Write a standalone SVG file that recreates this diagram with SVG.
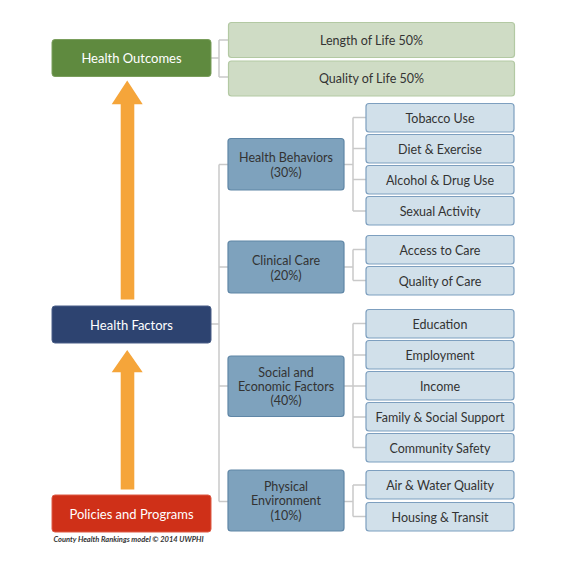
<svg xmlns="http://www.w3.org/2000/svg" width="580" height="576" viewBox="0 0 580 576">
<style>
text{font-family:Lato,"Open Sans","Liberation Sans",sans-serif;font-size:12.5px;text-anchor:middle;dominant-baseline:central}
.t-w{fill:#ffffff;font-size:13px}
.t-d{fill:#333333}
.ho{fill:#5f8a3f;stroke:#7a9e5c;stroke-width:1}
.hf{fill:#2d4370;stroke:#4a5f88;stroke-width:1}
.pp{fill:#cf3018;stroke:#dd5a45;stroke-width:1}
.lg{fill:#cfdcc5;stroke:#b3c9a3;stroke-width:1.2}
.mb{fill:#7ea2bd;stroke:#5f86a6;stroke-width:1.2}
.lb{fill:#d1e0ea;stroke:#7d9fbf;stroke-width:1.2}
.arr{fill:#f5a53a}
.con{fill:none;stroke:#c9c9c9;stroke-width:1.5}
.copy{font-size:7.5px;font-style:italic;font-weight:bold;text-anchor:start;fill:#333333}
</style>
<rect width="580" height="576" fill="#ffffff"/>
<g id="connectors">
<path class="con" d="M211 58H219M219 40V77M219 40H228M219 77H228"/>
<path class="con" d="M211 324H219M219 164.5V501.5M219 164.5H228M219 267H228M219 386H228M219 501.5H228"/>
<path class="con" d="M344 164.5H353M353 117.5V211M353 117.5H366M353 148.5H366M353 179.5H366M353 211H366"/>
<path class="con" d="M344 267H353M353 249.5V280.5M353 249.5H366M353 280.5H366"/>
<path class="con" d="M344 386H353M353 323.5V447.5M353 323.5H366M353 355H366M353 386H366M353 417H366M353 447.5H366"/>
<path class="con" d="M344 501.5H353M353 485V516.5M353 485H366M353 516.5H366"/>
</g>
<g id="arrows">
<polygon class="arr" points="127.2,80.5 142.7,104.3 134.3,104.3 134.3,299.5 120.7,299.5 120.7,104.3 111.7,104.3"/>
<polygon class="arr" points="127.2,350 142.7,372.3 134.3,372.3 134.3,489.5 120.7,489.5 120.7,372.3 111.7,372.3"/>
</g>
<g id="health-outcomes"><rect class="ho" x="52" y="39.5" width="159" height="37" rx="3"/><text class="t-w" x="131.5" y="58">Health Outcomes</text></g>
<g id="health-factors"><rect class="hf" x="52" y="306" width="159" height="37" rx="3"/><text class="t-w" x="131.5" y="324.5">Health Factors</text></g>
<g id="policies"><rect class="pp" x="52" y="495" width="159" height="37" rx="3"/><text class="t-w" x="131.5" y="513.5">Policies and Programs</text></g>
<text class="copy" x="53.5" y="539">County Health Rankings model © 2014 UWPHI</text>
<g id="length-of-life"><rect class="lg" x="228.5" y="22.5" width="286" height="35" rx="3"/><text class="t-d" x="371.5" y="40">Length of Life 50%</text></g>
<g id="quality-of-life"><rect class="lg" x="228.5" y="61" width="286" height="35" rx="3"/><text class="t-d" x="371.5" y="78.5">Quality of Life 50%</text></g>
<g id="health-behaviors"><rect class="mb" x="228" y="138.5" width="116" height="51.5" rx="3"/><text class="t-d" x="286" y="157">Health Behaviors</text><text class="t-d" x="286" y="172">(30%)</text></g>
<g id="clinical-care"><rect class="mb" x="228" y="241" width="116" height="52" rx="3"/><text class="t-d" x="286" y="260">Clinical Care</text><text class="t-d" x="286" y="275">(20%)</text></g>
<g id="social-economic"><rect class="mb" x="228" y="356" width="116" height="60.5" rx="3"/><text class="t-d" x="286" y="372">Social and</text><text class="t-d" x="286" y="386">Economic Factors</text><text class="t-d" x="286" y="400.5">(40%)</text></g>
<g id="physical-environment"><rect class="mb" x="228" y="470" width="116" height="61" rx="3"/><text class="t-d" x="286" y="486">Physical</text><text class="t-d" x="286" y="500.5">Environment</text><text class="t-d" x="286" y="515">(10%)</text></g>
<g id="tobacco"><rect class="lb" x="366" y="103.5" width="148" height="28.5" rx="3"/><text class="t-d" x="440" y="118">Tobacco Use</text></g>
<g id="diet"><rect class="lb" x="366" y="134.5" width="148" height="28.5" rx="3"/><text class="t-d" x="440" y="149">Diet &amp; Exercise</text></g>
<g id="alcohol"><rect class="lb" x="366" y="165.5" width="148" height="28.5" rx="3"/><text class="t-d" x="440" y="180">Alcohol &amp; Drug Use</text></g>
<g id="sexual"><rect class="lb" x="366" y="196.5" width="148" height="28.5" rx="3"/><text class="t-d" x="440" y="211">Sexual Activity</text></g>
<g id="access"><rect class="lb" x="366" y="235.5" width="148" height="28.5" rx="3"/><text class="t-d" x="440" y="250">Access to Care</text></g>
<g id="quality-care"><rect class="lb" x="366" y="266.5" width="148" height="28.5" rx="3"/><text class="t-d" x="440" y="281">Quality of Care</text></g>
<g id="education"><rect class="lb" x="366" y="309.5" width="148" height="28.5" rx="3"/><text class="t-d" x="440" y="324">Education</text></g>
<g id="employment"><rect class="lb" x="366" y="340.5" width="148" height="28.5" rx="3"/><text class="t-d" x="440" y="355">Employment</text></g>
<g id="income"><rect class="lb" x="366" y="371.5" width="148" height="28.5" rx="3"/><text class="t-d" x="440" y="386">Income</text></g>
<g id="family"><rect class="lb" x="366" y="402.5" width="148" height="28.5" rx="3"/><text class="t-d" x="440" y="417">Family &amp; Social Support</text></g>
<g id="community"><rect class="lb" x="366" y="433.5" width="148" height="28.5" rx="3"/><text class="t-d" x="440" y="448">Community Safety</text></g>
<g id="air-water"><rect class="lb" x="366" y="470.5" width="148" height="28.5" rx="3"/><text class="t-d" x="440" y="485">Air &amp; Water Quality</text></g>
<g id="housing"><rect class="lb" x="366" y="502.5" width="148" height="28.5" rx="3"/><text class="t-d" x="440" y="517">Housing &amp; Transit</text></g>
</svg>
